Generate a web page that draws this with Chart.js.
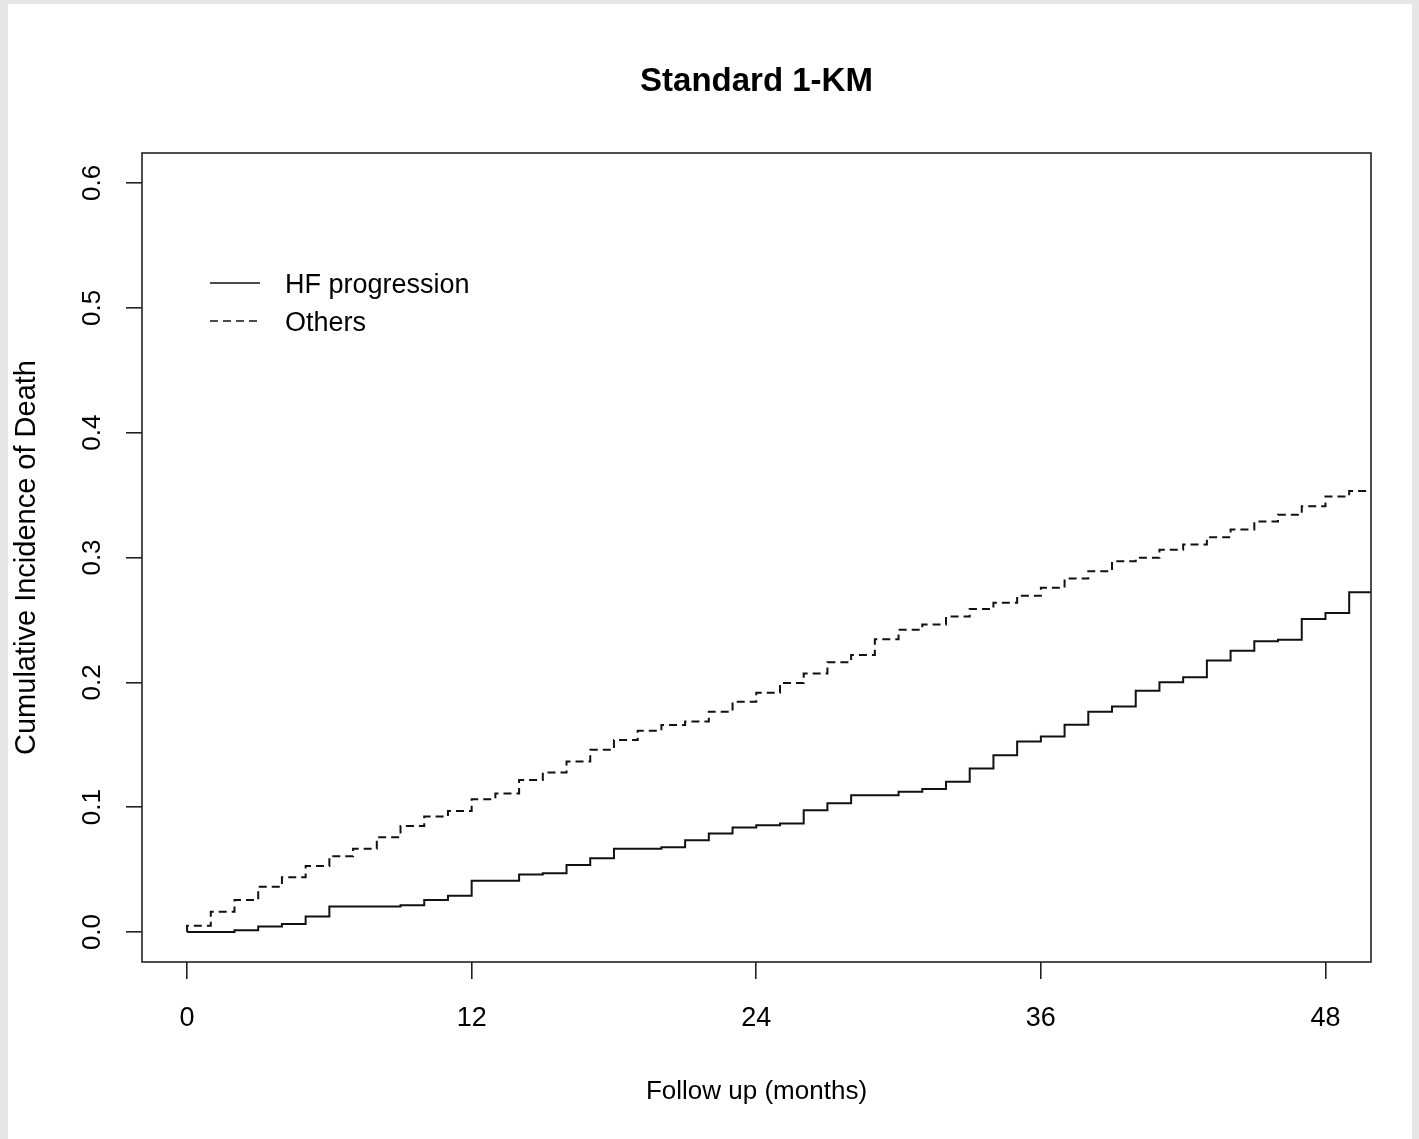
<!DOCTYPE html>
<html>
<head>
<meta charset="utf-8">
<script src="https://cdn.jsdelivr.net/npm/chart.js@4/dist/chart.umd.min.js"></script>
<style>
  html, body { margin: 0; padding: 0; background: #e6e6e6; width: 1419px; height: 1139px; overflow: hidden; }
  #wrap { position: absolute; left: 8px; top: 4px; width: 1404px; height: 1135px; background: #ffffff; }
  canvas { display: block; }
</style>
</head>
<body>
<div id="wrap"><canvas id="c" width="1404" height="1135"></canvas></div>
<script>
// ---- Data ----
const chartTitle = "Standard 1-KM";
const xAxisTitle = "Follow up (months)";
const yAxisTitle = "Cumulative Incidence of Death";
const seriesNames = ["HF progression", "Others"];

const xTicks = [0, 12, 24, 36, 48];
const yTicks = [0.0, 0.1, 0.2, 0.3, 0.4, 0.5, 0.6];
const xRange = [-1.9, 49.92];
const yRange = [-0.024, 0.624];
const followUpEnd = 49.92;

const hfTimes = [0, 2, 3, 4, 5, 6, 9, 10, 11, 12, 14, 15, 16, 17, 18, 20, 21, 22, 23, 24, 25, 26, 27, 28,
  30, 31, 32, 33, 34, 35, 36, 37, 38, 39, 40, 41, 42, 43, 44, 45, 46, 47, 48, 49];
const hfValues = [0.000, 0.0015, 0.0045, 0.0065, 0.0125, 0.0205, 0.0215, 0.0257, 0.029, 0.041,
  0.046, 0.0471, 0.0537, 0.0591, 0.0668,
  0.068, 0.0735, 0.079, 0.0837, 0.0855, 0.0869, 0.0976, 0.1032, 0.1096,
  0.1123, 0.1145, 0.1203, 0.131, 0.1417, 0.1527, 0.1567, 0.166, 0.1765, 0.1807, 0.1933, 0.200,
  0.204, 0.2174, 0.2254, 0.2329, 0.2342, 0.2508, 0.2556, 0.2722];

const othersTimes = [0, 0, 1, 2, 3, 4, 5, 6, 7, 8, 9, 10, 11, 12, 13, 14, 15, 16, 17, 18, 19, 20,
  21, 22, 23, 24, 25, 26, 27, 28, 29, 30, 31, 32, 33, 34, 35, 36, 37, 38, 39, 40, 41, 42, 43, 44,
  45, 46, 47, 48, 49];
const othersValues = [0, 0.005, 0.0163, 0.0257, 0.0363, 0.0439, 0.0529, 0.0607, 0.0668, 0.076,
  0.085, 0.0925, 0.097, 0.1064, 0.111, 0.1217, 0.1278, 0.1366, 0.146, 0.1538, 0.1612, 0.1658,
  0.1687, 0.1765, 0.1845, 0.1917, 0.1995, 0.2070, 0.216, 0.222, 0.2345, 0.2422, 0.2463, 0.2527,
  0.2588, 0.2637, 0.2693, 0.2757, 0.2831, 0.289, 0.297, 0.2997, 0.3062, 0.3104, 0.3163, 0.3225,
  0.3289, 0.3342, 0.3411, 0.3489, 0.3532];

// ---- Build series points ----
function toPoints(times, values) {
  const pts = times.map((t, i) => ({ x: t, y: values[i] }));
  pts.push({ x: followUpEnd, y: values[values.length - 1] });
  return pts;
}

const FONT = "'Liberation Sans', Arial, Helvetica, sans-serif";
Chart.defaults.font.family = FONT;
Chart.defaults.color = '#000';

const boxPlugin = {
  id: 'rBox',
  afterDatasetsDraw(chart) {
    const { ctx, chartArea: a } = chart;
    ctx.save();
    ctx.strokeStyle = '#222';
    ctx.lineWidth = 1.6;
    ctx.strokeRect(a.left, a.top, a.right - a.left, a.bottom - a.top);
    ctx.restore();
  }
};

const legendPlugin = {
  id: 'rLegend',
  afterDraw(chart) {
    const { ctx, chartArea: a } = chart;
    const x0 = a.left + 68, x1 = a.left + 118, tx = a.left + 143;
    const rows = [a.top + 130, a.top + 168];
    ctx.save();
    chart.data.datasets.forEach((ds, i) => {
      const y = rows[i];
      ctx.strokeStyle = ds.borderColor;
      ctx.lineWidth = 1.6;
      ctx.setLineDash(ds.borderDash || []);
      ctx.beginPath();
      ctx.moveTo(x0, y);
      ctx.lineTo(x1, y);
      ctx.stroke();
      ctx.setLineDash([]);
      ctx.fillStyle = '#000';
      ctx.font = "27px " + FONT;
      ctx.textAlign = 'left';
      ctx.textBaseline = 'middle';
      ctx.fillText(ds.label, tx, y + 3);
    });
    ctx.restore();
  }
};

new Chart(document.getElementById('c'), {
  type: 'line',
  data: {
    datasets: [
      {
        label: seriesNames[0],
        data: toPoints(hfTimes, hfValues),
        stepped: 'before',
        borderColor: '#111',
        borderWidth: 2,
        pointRadius: 0,
        fill: false
      },
      {
        label: seriesNames[1],
        data: toPoints(othersTimes, othersValues),
        stepped: 'before',
        borderColor: '#111',
        borderWidth: 2,
        borderDash: [8, 5],
        pointRadius: 0,
        fill: false
      }
    ]
  },
  options: {
    responsive: false,
    animation: false,
    devicePixelRatio: 1,
    layout: { padding: { left: 0, right: 41, top: 0, bottom: 0 } },
    plugins: {
      legend: { display: false },
      tooltip: { enabled: false },
      title: {
        display: true,
        text: chartTitle,
        fullSize: false,
        font: { size: 33, weight: 'bold', family: FONT },
        color: '#000',
        padding: { top: 58, bottom: 51.4 }
      }
    },
    scales: {
      x: {
        type: 'linear',
        min: xRange[0],
        max: xRange[1],
        afterFit(scale) { scale.height = 177; },
        afterBuildTicks(scale) { scale.ticks = xTicks.map(v => ({ value: v })); },
        grid: { display: true, drawOnChartArea: false, drawTicks: true, tickLength: 17, color: '#222', lineWidth: 1.6 },
        border: { display: false },
        ticks: {
          font: { size: 27, family: FONT },
          color: '#000',
          padding: 23,
          maxRotation: 0,
          minRotation: 0,
          callback: v => String(v)
        },
        title: {
          display: true,
          text: xAxisTitle,
          font: { size: 26, family: FONT },
          color: '#000',
          padding: { top: 0, bottom: 32 }
        }
      },
      y: {
        type: 'linear',
        min: yRange[0],
        max: yRange[1],
        afterFit(scale) { scale.width = 134; },
        afterBuildTicks(scale) { scale.ticks = yTicks.map(v => ({ value: v })); },
        grid: { display: true, drawOnChartArea: false, drawTicks: true, tickLength: 16, color: '#222', lineWidth: 1.6 },
        border: { display: false },
        ticks: {
          font: { size: 26, family: FONT },
          color: '#000',
          padding: 15,
          crossAlign: 'center',
          minRotation: 90,
          maxRotation: 90,
          callback: v => Number(v).toFixed(1)
        },
        title: {
          display: true,
          text: yAxisTitle,
          font: { size: 29, family: FONT },
          color: '#000',
          padding: { top: 2, bottom: 0 }
        }
      }
    }
  },
  plugins: [boxPlugin, legendPlugin]
});
</script>
</body>
</html>
